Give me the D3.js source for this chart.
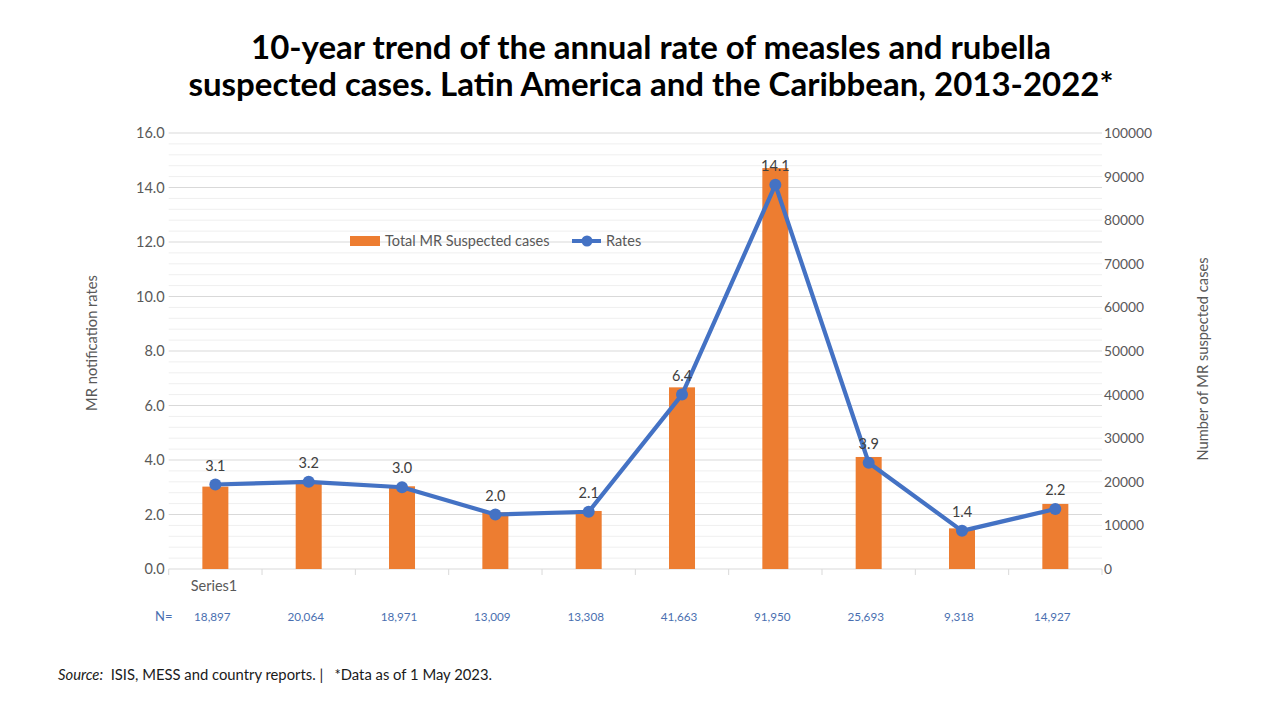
<!DOCTYPE html>
<html><head><meta charset="utf-8">
<script src="https://cdn.jsdelivr.net/npm/d3@7"></script>
<style>body{margin:0;background:#fff;} svg{display:block;font-family:Lato,"Open Sans",sans-serif;}</style>
</head><body>
<svg id="c" width="1280" height="720"></svg>
<script>
const categoryLabels = ["Series1","","","","","","","","",""];
const rates = [3.1,3.2,3.0,2.0,2.1,6.4,14.1,3.9,1.4,2.2];
const cases = [18897,20064,18971,13009,13308,41663,91950,25693,9318,14927];
const caseLabels = ["18,897","20,064","18,971","13,009","13,308","41,663","91,950","25,693","9,318","14,927"];
const leftTicks = [0,2,4,6,8,10,12,14,16];
const rightTicks = [0,10000,20000,30000,40000,50000,60000,70000,80000,90000,100000];

const svg = d3.select("#c");
const L=168.7, R=1102, T=133, B=569;
const idx = d3.range(categoryLabels.length);
const x = d3.scaleBand().domain(idx).range([L,R]).paddingInner(0).paddingOuter(0);
const yL = d3.scaleLinear().domain([0,16]).range([B,T]);
const yR = d3.scaleLinear().domain([0,100000]).range([B,T]);

// Title
svg.append("text").attr("x",651).attr("y",59).attr("text-anchor","middle")
  .attr("font-size",33).attr("font-weight","bold").attr("fill","#000")
  .text("10-year trend of the annual rate of measles and rubella");
svg.append("text").attr("x",651).attr("y",96).attr("text-anchor","middle")
  .attr("font-size",33).attr("font-weight","bold").attr("fill","#000")
  .text("suspected cases. Latin America and the Caribbean, 2013-2022*");

// minor gridlines
const minor = d3.range(0,16.01,0.4).filter(v=>Math.abs(v/2-Math.round(v/2))>0.01);
svg.append("g").selectAll("line").data(minor).join("line")
  .attr("x1",L).attr("x2",R).attr("y1",d=>yL(d)).attr("y2",d=>yL(d))
  .attr("stroke","#efefef").attr("stroke-width",1);
svg.append("g").selectAll("line").data(leftTicks).join("line")
  .attr("x1",L).attr("x2",R).attr("y1",d=>yL(d)).attr("y2",d=>yL(d))
  .attr("stroke","#d9d9d9").attr("stroke-width",1);

// bottom axis ticks
svg.append("g").selectAll("line").data(d3.range(categoryLabels.length+1)).join("line")
  .attr("x1",d=>L+d*x.step()).attr("x2",d=>L+d*x.step()).attr("y1",B).attr("y2",B+6)
  .attr("stroke","#d9d9d9");

// left axis labels
const gl = svg.append("g").attr("transform",`translate(${L},0)`)
  .call(d3.axisLeft(yL).tickValues(leftTicks).tickFormat(d3.format(".1f")).tickSize(0).tickPadding(4));
gl.select(".domain").remove();
gl.selectAll("text").attr("font-size",14.5).attr("fill","#595959").attr("font-family","Lato");

const gr = svg.append("g").attr("transform",`translate(${R},0)`)
  .call(d3.axisRight(yR).tickValues(rightTicks).tickFormat(d3.format("d")).tickSize(0).tickPadding(2));
gr.select(".domain").remove();
gr.selectAll("text").attr("font-size",13.8).attr("fill","#595959").attr("font-family","Lato");

// bars
const bw = 26;
svg.append("g").selectAll("rect").data(idx).join("rect")
  .attr("x",i=>x(i)+x.bandwidth()/2-bw/2).attr("width",bw)
  .attr("y",i=>yR(cases[i])).attr("height",i=>B-yR(cases[i]))
  .attr("fill","#ED7D31");

// line
const line = d3.line().x(i=>x(i)+x.bandwidth()/2).y(i=>yL(rates[i]));
svg.append("path").datum(idx).attr("d",line).attr("fill","none")
  .attr("stroke","#4472C4").attr("stroke-width",4.2).attr("stroke-linejoin","round");
svg.append("g").selectAll("circle").data(idx).join("circle")
  .attr("cx",i=>x(i)+x.bandwidth()/2).attr("cy",i=>yL(rates[i])).attr("r",6)
  .attr("fill","#4472C4");
svg.append("g").selectAll("text").data(idx).join("text")
  .attr("x",i=>x(i)+x.bandwidth()/2).attr("y",i=>yL(rates[i])-14)
  .attr("text-anchor","middle").attr("font-size",14.5).attr("fill","#404040")
  .text(i=>d3.format(".1f")(rates[i]));

// category labels
svg.append("g").selectAll("text").data(idx).join("text")
  .attr("x",i=>x(i)+22).attr("y",591)
  .attr("font-size",14.5).attr("fill","#595959").text(i=>categoryLabels[i]);

// N row
svg.append("text").attr("x",155).attr("y",621).attr("font-size",13).attr("fill","#4a6fb0").text("N=");
svg.append("g").selectAll("text").data(idx).join("text")
  .attr("x",i=>x(i)+x.bandwidth()/2-3).attr("y",621).attr("text-anchor","middle")
  .attr("font-size",11.7).attr("fill","#4a6fb0").text(i=>caseLabels[i]);

// axis titles
svg.append("text").attr("transform","translate(97,343) rotate(-90)").attr("text-anchor","middle")
  .attr("font-size",14.7).attr("fill","#595959").text("MR notification rates");
svg.append("text").attr("transform","translate(1208,359) rotate(-90)").attr("text-anchor","middle")
  .attr("font-size",14.7).attr("fill","#595959").text("Number of MR suspected cases");

// legend
const lg = svg.append("g");
lg.append("rect").attr("x",350).attr("y",236).attr("width",30).attr("height",10).attr("fill","#ED7D31");
lg.append("text").attr("x",385).attr("y",246).attr("font-size",14.5).attr("fill","#595959").text("Total MR Suspected cases");
lg.append("line").attr("x1",572).attr("x2",601).attr("y1",241).attr("y2",241).attr("stroke","#4472C4").attr("stroke-width",4);
lg.append("circle").attr("cx",587).attr("cy",241).attr("r",5.5).attr("fill","#4472C4");
lg.append("text").attr("x",606).attr("y",246).attr("font-size",14.5).attr("fill","#595959").text("Rates");

// source
const src = svg.append("text").attr("x",58).attr("y",680).attr("font-size",14.8).attr("fill","#1a1a1a");
src.append("tspan").attr("font-style","italic").text("Source:");
src.append("tspan").text("\u00a0 ISIS, MESS and country reports. | \u00a0 *Data as of 1 May 2023.");
</script>
</body></html>
